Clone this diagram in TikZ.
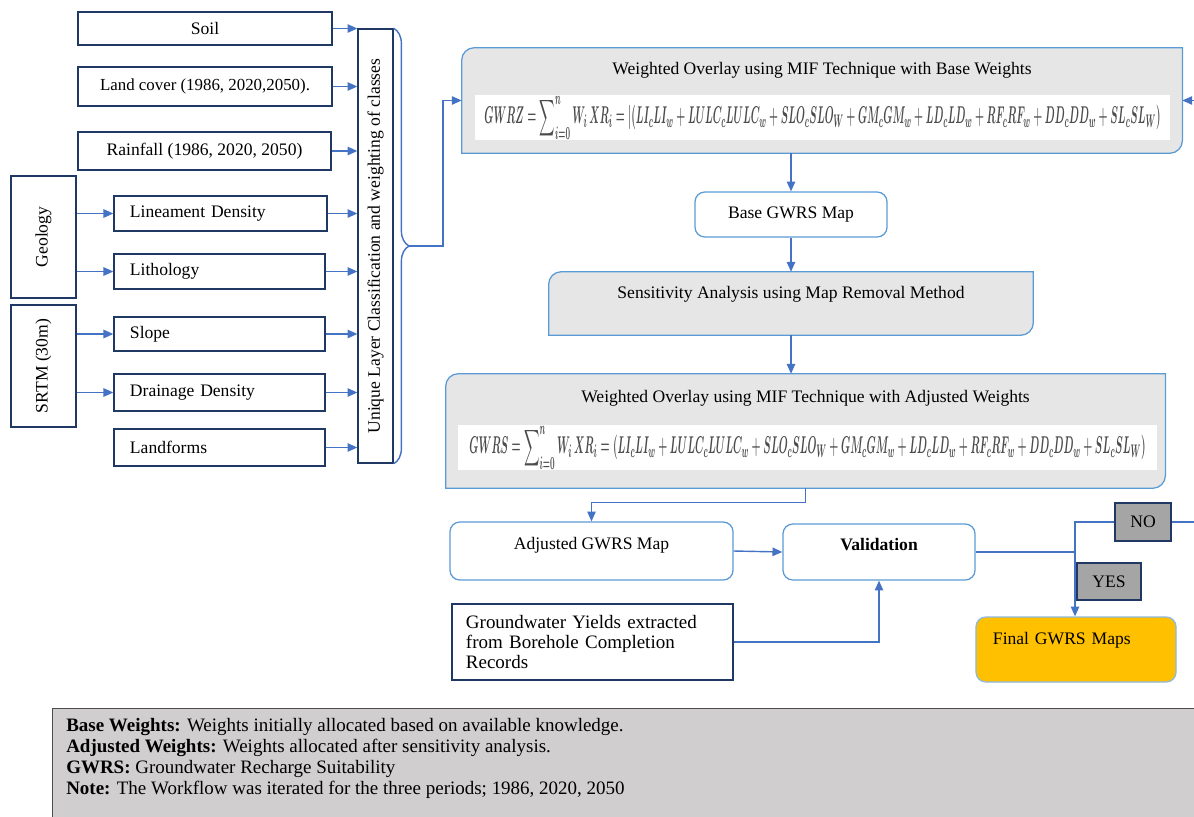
\documentclass[tikz,border=0pt]{standalone}
\usepackage{fontspec}
\setmainfont{Liberation Serif}
\usepackage{amsmath,amssymb}
\usepackage{graphicx}
\usetikzlibrary{positioning,arrows.meta,decorations.pathreplacing}

\definecolor{lineblue}{HTML}{4472C4}
\definecolor{navy}{HTML}{203864}
\definecolor{edgeblue}{HTML}{5B9BD5}
\definecolor{panel}{HTML}{E7E6E6}
\definecolor{flag}{HTML}{A5A5A5}
\definecolor{gold}{HTML}{FFC000}
\definecolor{notegray}{HTML}{D0CECE}

% grey panel with two rounded corners
\newcommand{\panelframe}[1]{%
  \draw[draw=edgeblue,fill=panel,line width=0.9pt]
    (#1.south west) -- ([yshift=-9pt]#1.north west)
    arc[start angle=180,end angle=90,radius=9pt] -- (#1.north east)
    -- ([yshift=9pt]#1.south east)
    arc[start angle=0,end angle=-90,radius=9pt] -- cycle;}

\begin{document}
\begin{tikzpicture}[x=0.025cm,y=-0.025cm,
    font=\fontsize{12.5}{14}\selectfont,
    >={Triangle[length=7pt,width=6pt]},
    box/.style={rectangle,draw=navy,line width=0.9pt,fill=white,inner sep=2pt},
    leftbox/.style={box,align=left,inner xsep=0.4cm,text width=#1},
    rbox/.style={rectangle,rounded corners=7pt,draw=edgeblue,line width=0.9pt,fill=white},
    flagbox/.style={rectangle,draw=navy,line width=0.9pt,fill=flag},
    eqbox/.style={rectangle,fill=white,inner sep=0pt,text=black!70},
    conn/.style={draw=lineblue,line width=1pt}]
    \useasboundingbox (0,0) rectangle (1194,816);

    % Input layers
    \node[box,minimum width=6.35cm,minimum height=0.825cm] (soil) at (205,28.5) {Soil};
    \node[box,minimum width=6.35cm,minimum height=0.975cm,font=\fontsize{12}{13}\selectfont] (landc) at (205,86.5) {Land cover (1986, 2020,2050).};
    \node[box,minimum width=6.325cm,minimum height=0.95cm] (rain) at (204.5,151) {Rainfall (1986, 2020, 2050)};

    % Source data
    \node[box,minimum width=1.625cm,minimum height=3.05cm] (geol) at (43.5,237) {\rotatebox{90}{Geology}};
    \node[box,minimum width=1.625cm,minimum height=3.05cm] (srtm) at (43.5,366) {\rotatebox{90}{SRTM (30m)}};

    % Derived layers
    \node[leftbox=4.525cm,minimum height=0.875cm] (lin) at (220.5,213.5) {Lineament Density};
    \node[leftbox=4.475cm,minimum height=0.875cm] (lith) at (219.5,271.5) {Lithology};
    \node[leftbox=4.475cm,minimum height=0.85cm] (slope) at (219.5,334) {Slope};
    \node[leftbox=4.475cm,minimum height=0.925cm] (drain) at (219.5,392.5) {Drainage Density};
    \node[leftbox=4.475cm,minimum height=0.925cm] (landf) at (219.5,447.5) {Landforms};

    % Classification
    \node[box,minimum width=0.875cm,minimum height=10.85cm,inner sep=1pt] (ulc) at (375.5,246)
        {\rotatebox{90}{Unique Layer Classification and weighting of classes}};

    % Weighted overlay, base weights
    \node[minimum width=18cm,minimum height=2.625cm] (wob) at (822,100.5) {};
    \panelframe{wob}
    \node (wobtitle) at (822,70) {Weighted Overlay using MIF Technique with Base Weights};
    \node[eqbox,minimum width=17.375cm,minimum height=1.125cm] (wobeq) at (822.5,117.5)
        {\resizebox{16.9cm}{0.7cm}{\boldmath$GWRZ = \displaystyle\sum\nolimits_{i=0}^{n} W_i\, XR_i = |(LI_cLI_w + LULC_cLULC_w + SLO_cSLO_W + GM_cGM_w + LD_cLD_w + RF_cRF_w + DD_cDD_w + SL_cSL_W)$}};

    % Sensitivity
    \node[rbox,minimum width=4.8cm,minimum height=1.125cm] (base) at (791,214.5) {Base GWRS Map};
    \node[minimum width=12.1cm,minimum height=1.575cm] (sens) at (791,303.5) {};
    \panelframe{sens}
    \node (senstxt) at (791,294) {Sensitivity Analysis using Map Removal Method};

    % Weighted overlay, adjusted weights
    \node[minimum width=17.975cm,minimum height=2.85cm] (woa) at (805.5,431) {};
    \panelframe{woa}
    \node (woatitle) at (805.5,398) {Weighted Overlay using MIF Technique with Adjusted Weights};
    \node[eqbox,minimum width=17.475cm,minimum height=1.125cm] (woaeq) at (807.5,447.5)
        {\resizebox{16.9cm}{0.7cm}{\boldmath$GWRS = \displaystyle\sum\nolimits_{i=0}^{n} W_i\, XR_i = (LI_cLI_w + LULC_cLULC_w + SLO_cSLO_W + GM_cGM_w + LD_cLD_w + RF_cRF_w + DD_cDD_w + SL_cSL_W)$}};

    % Validation
    \node[rbox,minimum width=7.075cm,minimum height=1.45cm,text depth=11pt] (adj) at (591.5,551) {Adjusted GWRS Map};
    \node[rbox,minimum width=4.8cm,minimum height=1.4cm,text depth=11pt] (valid) at (879,552) {\textbf{Validation}};
    \node[box,align=left,text width=6.325cm,inner xsep=0.35cm,minimum height=1.9cm,
        font=\fontsize{13.5}{14.2}\selectfont] (gwy) at (592.5,642)
        {Groundwater Yields extracted\\from Borehole Completion\\Records};
    \node[rbox,fill=gold,draw=edgeblue!70,align=left,text width=4.15cm,inner xsep=0.425cm,
        minimum height=1.625cm,text depth=16pt] (final) at (1076,649.5) {Final GWRS Maps};
    \node[flagbox,minimum width=1.4cm,minimum height=0.95cm] (no) at (1143,522) {NO};

    % Connections
    \foreach \n in {soil,landc,rain,lin,lith,slope,drain,landf}
        \draw[conn,->] (\n.east) -- (\n.east -| ulc.west);
    \draw[conn,->] (lin.west -| geol.east) -- (lin.west);
    \draw[conn,->] (lith.west -| geol.east) -- (lith.west);
    \draw[conn,->] (slope.west -| srtm.east) -- (slope.west);
    \draw[conn,->] (drain.west -| srtm.east) -- (drain.west);
    \draw[conn,decorate,decoration={brace,amplitude=11pt}] (ulc.north east) -- (ulc.south east);
    \coordinate (brtip) at ([xshift=11pt]ulc.east);
    \draw[conn,->] (brtip) -- ++(34,0) |- (wob.west);
    \draw[conn,->] (base.north |- wob.south) -- (base.north);
    \draw[conn,->] (base.south) -- (sens.north);
    \draw[conn,->] (sens.south) -- (sens.south |- woa.north);
    \draw[conn,->] (woa.south) -- ++(0,14) -| (adj.north);
    \draw[conn,->] (adj.east) -- (valid.west);
    \draw[conn,->] (gwy.east) -| (valid.south);
    \coordinate (split) at (1075,552);
    \draw[conn] (valid.east) -- (split) |- (no.west);
    \draw[conn,->] (split) -- (split |- final.north);
    \draw[conn,->] (no.east) -- ++(60,0) |- (wob.east);
    \node[flagbox,minimum width=1.6cm,minimum height=0.925cm] (yes) at (1109,581.5) {YES};

    % Notes
    \node[rectangle,draw=black!70,fill=notegray,line width=1pt,minimum width=29.2cm,
        minimum height=3cm,anchor=north west] (notes) at (52,708) {};
    \node[anchor=north west,align=left,inner sep=0pt,font=\fontsize{13.5}{14.9}\selectfont] (notetxt) at (66,718)
        {\textbf{Base Weights:} Weights initially allocated based on available knowledge.\\
         \textbf{Adjusted Weights:} Weights allocated after sensitivity analysis.\\
         \textbf{GWRS:} Groundwater Recharge Suitability\\
         \textbf{Note:} The Workflow was iterated for the three periods; 1986, 2020, 2050};
\end{tikzpicture}
\end{document}
